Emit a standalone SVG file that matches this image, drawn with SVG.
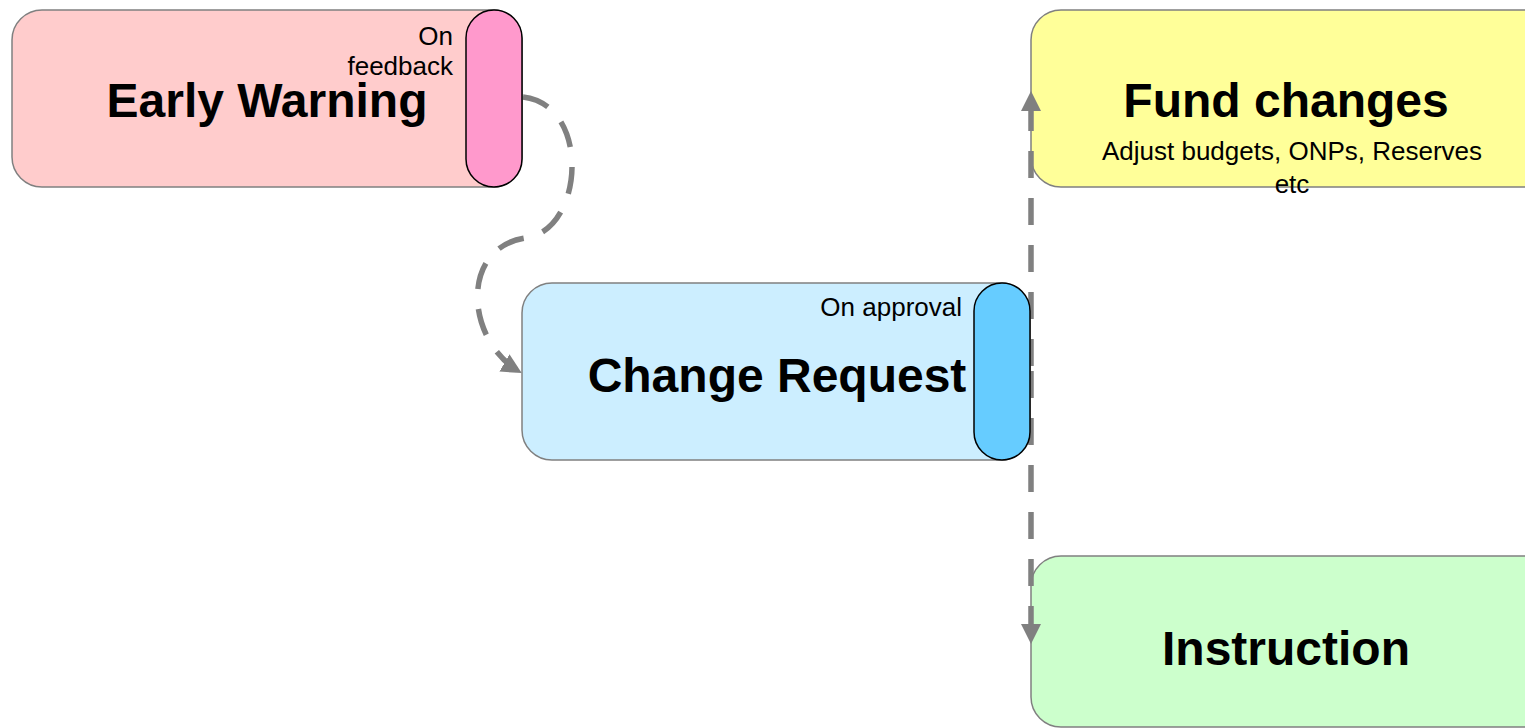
<svg xmlns="http://www.w3.org/2000/svg" width="1525" height="728" viewBox="0 0 1525 728">
  <defs>
    <style>
      .box { stroke: #808080; stroke-width: 1.5; }
      .pill { stroke: #000000; stroke-width: 1.5; }
      .title { font-family: "Liberation Sans", Arial, sans-serif; font-weight: bold; font-size: 48px; fill: #000; text-anchor: middle; }
      .note { font-family: "Liberation Sans", Arial, sans-serif; font-size: 26px; fill: #000; }
      .flow { fill: none; stroke: #808080; stroke-width: 5.5; stroke-dasharray: 27 20; }
    </style>
    <marker id="arrow" viewBox="0 0 20 20" refX="18" refY="10" markerWidth="20" markerHeight="20" markerUnits="userSpaceOnUse" orient="auto">
      <path d="M0,0 L20,10 L0,20 z" fill="#808080"/>
    </marker>
  </defs>

  <rect width="1525" height="728" fill="#ffffff"/>

  <!-- target nodes on the right -->
  <g id="fund-changes">
    <rect class="box" x="1031" y="10" width="524" height="177" rx="30" fill="#ffff99"/>
    <text class="title" x="1286" y="117">Fund changes</text>
    <text class="note" x="1292" y="160" text-anchor="middle">Adjust budgets, ONPs, Reserves</text>
    <text class="note" x="1292" y="193" text-anchor="middle">etc</text>
  </g>

  <g id="instruction">
    <rect class="box" x="1031" y="556" width="524" height="171" rx="30" fill="#ccffcc"/>
    <text class="title" x="1286" y="665">Instruction</text>
  </g>

  <!-- connectors -->
  <g id="connectors">
    <path class="flow" d="M523,97 C592,105 584,232 525,238 C460,248 465,340 520,372" marker-end="url(#arrow)"/>
    <path class="flow" d="M1031,366 L1031,93" marker-end="url(#arrow)"/>
    <path class="flow" d="M1031,371 L1031,642" marker-end="url(#arrow)"/>
  </g>

  <g id="early-warning">
    <rect class="box" x="12" y="10" width="510" height="177" rx="30" fill="#ffcccc"/>
    <rect class="pill" x="466" y="10" width="56" height="177" rx="28" fill="#ff99cc"/>
    <text class="title" x="267" y="117">Early Warning</text>
    <text class="note" x="453" y="45" text-anchor="end">On</text>
    <text class="note" x="453" y="75" text-anchor="end">feedback</text>
  </g>

  <g id="change-request">
    <rect class="box" x="522" y="283" width="508" height="177" rx="30" fill="#cceeff"/>
    <rect class="pill" x="974" y="283" width="56" height="177" rx="28" fill="#66ccff"/>
    <text class="title" x="777" y="392">Change Request</text>
    <text class="note" x="962" y="316" text-anchor="end">On approval</text>
  </g>
</svg>
